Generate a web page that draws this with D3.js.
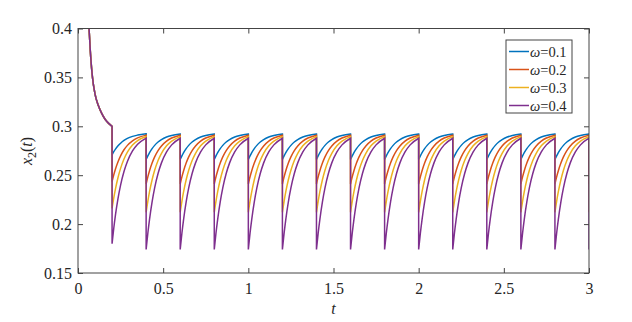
<!DOCTYPE html>
<html>
<head>
<meta charset="utf-8">
<script src="https://cdn.jsdelivr.net/npm/d3@7"></script>
<style>
  html, body { margin: 0; padding: 0; background: #fff; }
  svg { display: block; }
  text { font-family: "Liberation Serif", "Times New Roman", serif; fill: #262626; }
</style>
</head>
<body>
<svg id="chart" width="632" height="322"></svg>
<script>
// ---------- data ----------
const seriesNames = ["0.1", "0.2", "0.3", "0.4"];
const seriesColors = ["#0072BD", "#D95319", "#EDB120", "#7E2F8E"];

// shared initial decay (t, x2) before the first impulse
const initialT = [0.0, 0.03, 0.05, 0.065, 0.075, 0.085, 0.10, 0.12, 0.14, 0.16, 0.18, 0.20];
const initialV = [0.70, 0.55, 0.45, 0.40, 0.37, 0.35, 0.333, 0.321, 0.313, 0.307, 0.303, 0.300];

// impulse instants
const jumpTimes = [0.2, 0.4, 0.6, 0.8, 1.0, 1.2, 1.4, 1.6, 1.8, 2.0, 2.2, 2.4, 2.6, 2.8, 3.0];

// time offsets inside one impulse interval
const cycleOffsets = [0, 0.01, 0.02, 0.035, 0.05, 0.07, 0.09, 0.12, 0.15, 0.2];

// first interval after t = 0.2 (one row per series)
const firstCycle = [
  [0.2707, 0.2740, 0.2767, 0.2800, 0.2827, 0.2855, 0.2876, 0.2897, 0.2910, 0.2923],
  [0.2434, 0.2503, 0.2564, 0.2638, 0.2698, 0.2760, 0.2805, 0.2852, 0.2882, 0.2910],
  [0.2160, 0.2268, 0.2361, 0.2477, 0.2570, 0.2665, 0.2735, 0.2808, 0.2854, 0.2895],
  [0.1800, 0.1958, 0.2094, 0.2263, 0.2399, 0.2538, 0.2641, 0.2748, 0.2816, 0.2880]
];

// repeating intervals afterwards (one row per series)
const steadyCycle = [
  [0.2660, 0.2697, 0.2731, 0.2772, 0.2805, 0.2839, 0.2864, 0.2890, 0.2906, 0.2921],
  [0.2410, 0.2483, 0.2546, 0.2624, 0.2687, 0.2751, 0.2799, 0.2848, 0.2880, 0.2909],
  [0.2120, 0.2233, 0.2331, 0.2453, 0.2550, 0.2650, 0.2724, 0.2801, 0.2849, 0.2894],
  [0.1740, 0.1906, 0.2049, 0.2228, 0.2371, 0.2517, 0.2626, 0.2738, 0.2810, 0.2878]
];

const xTicks = [0, 0.5, 1, 1.5, 2, 2.5, 3];
const xTickLabels = ["0", "0.5", "1", "1.5", "2", "2.5", "3"];
const yTicks = [0.15, 0.2, 0.25, 0.3, 0.35, 0.4];
const yTickLabels = ["0.15", "0.2", "0.25", "0.3", "0.35", "0.4"];

// ---------- layout ----------
const svg = d3.select("#chart");
const L = 78, R = 589, T = 28.5, B = 273;
const x = d3.scaleLinear().domain([0, 3]).range([L, R]);
const y = d3.scaleLinear().domain([0.15, 0.4]).range([B, T]);
const axisColor = "#444";

svg.append("defs").append("clipPath").attr("id", "clip")
  .append("rect").attr("x", L).attr("y", T).attr("width", R - L).attr("height", B - T);

// ---------- lines ----------
const curveLine = d3.line().x(d => x(d[0])).y(d => y(d[1])).curve(d3.curveMonotoneX);
const plot = svg.append("g").attr("clip-path", "url(#clip)");

seriesNames.forEach((name, i) => {
  const pieces = [];
  pieces.push(curveLine(initialT.map((t, k) => [t, initialV[k]])));
  jumpTimes.forEach((jt, j) => {
    const vals = j === 0 ? firstCycle[i] : steadyCycle[i];
    if (j === jumpTimes.length - 1) {
      pieces.push("L" + x(jt) + "," + y(vals[0]));
    } else {
      const pts = cycleOffsets.map((s, k) => [jt + s, vals[k]]);
      pieces.push(curveLine(pts).replace(/^M/, "L"));
    }
  });
  plot.append("path")
    .attr("d", pieces.join(""))
    .attr("fill", "none")
    .attr("stroke", seriesColors[i])
    .attr("stroke-width", 1.5);
});

// ---------- axes ----------
const fmtX = d => xTickLabels[xTicks.indexOf(d)];
const fmtY = d => yTickLabels[yTicks.indexOf(d)];

function styleAxis(g) {
  g.select(".domain").remove();
  g.selectAll(".tick line").attr("stroke", axisColor).attr("stroke-width", 1);
  g.selectAll("text").attr("fill", "#262626")
    .style("font-family", '"Liberation Serif", "Times New Roman", serif')
    .style("font-size", "16px");
}

svg.append("g").attr("transform", `translate(0,${B})`)
  .call(d3.axisBottom(x).tickValues(xTicks).tickFormat(fmtX).tickSizeInner(-5).tickSizeOuter(0).tickPadding(10))
  .call(styleAxis);
svg.append("g").attr("transform", `translate(0,${T})`)
  .call(d3.axisTop(x).tickValues(xTicks).tickFormat("").tickSizeInner(-5).tickSizeOuter(0))
  .call(styleAxis);
svg.append("g").attr("transform", `translate(${L},0)`)
  .call(d3.axisLeft(y).tickValues(yTicks).tickFormat(fmtY).tickSizeInner(-5).tickSizeOuter(0).tickPadding(6))
  .call(styleAxis);
svg.append("g").attr("transform", `translate(${R},0)`)
  .call(d3.axisRight(y).tickValues(yTicks).tickFormat("").tickSizeInner(-5).tickSizeOuter(0))
  .call(styleAxis);

svg.append("rect").attr("x", L).attr("y", T).attr("width", R - L).attr("height", B - T)
  .attr("fill", "none").attr("stroke", axisColor).attr("stroke-width", 1);

// axis titles
svg.append("text").attr("x", (L + R) / 2).attr("y", 314).attr("text-anchor", "middle")
  .style("font-size", "16px").style("font-style", "italic").text("t");

const yl = svg.append("text").attr("transform", `translate(32,151) rotate(-90)`)
  .attr("text-anchor", "middle").style("font-size", "16px");
yl.append("tspan").style("font-style", "italic").text("x");
yl.append("tspan").attr("dy", 4).style("font-size", "12px").text("2");
yl.append("tspan").attr("dy", -4).text("(");
yl.append("tspan").style("font-style", "italic").text("t");
yl.append("tspan").text(")");

// ---------- legend ----------
const lg = svg.append("g");
lg.append("rect").attr("x", 506).attr("y", 40).attr("width", 66).attr("height", 73)
  .attr("fill", "#fff").attr("stroke", axisColor).attr("stroke-width", 1);
seriesNames.forEach((name, i) => {
  const yy = 51.5 + i * 18;
  lg.append("line").attr("x1", 509).attr("x2", 529).attr("y1", yy).attr("y2", yy)
    .attr("stroke", seriesColors[i]).attr("stroke-width", 1.5);
  const t = lg.append("text").attr("x", 530).attr("y", yy + 5).style("font-size", "14.5px");
  t.append("tspan").style("font-style", "italic").text("ω");
  t.append("tspan").text("=" + name);
});
</script>
</body>
</html>
